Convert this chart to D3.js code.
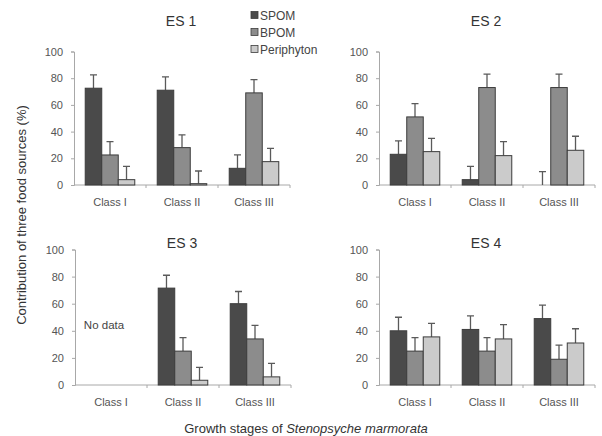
<!DOCTYPE html>
<html>
<head>
<meta charset="utf-8">
<script src="https://d3js.org/d3.v7.min.js"></script>
<style>
  body { margin: 0; background: #fff; }
  text { font-family: "Liberation Sans", Arial, sans-serif; }
</style>
</head>
<body>
<script>
// data (values by class, then SPOM / BPOM / Periphyton)
var classes = ["Class I", "Class II", "Class III"];
var sources = ["SPOM", "BPOM", "Periphyton"];
var sites = ["ES 1", "ES 2", "ES 3", "ES 4"];
var yTicks = [0, 20, 40, 60, 80, 100];

var es1Values = [[72.5, 22.5, 4], [71, 28, 1], [12.5, 69, 17.5]];
var es2Values = [[23, 51, 25], [4, 73, 22], [0, 73, 26]];
var es3Values = [[null, null, null], [71.5, 25, 3.5], [60, 34, 6]];
var es4Values = [[40, 25, 35.5], [41, 25, 34], [49, 19, 31]];

var es1Err = [[10, 10, 10], [10, 9.5, 9.5], [10, 10, 10]];
var es2Err = [[10, 10, 10], [10, 10, 10.5], [10, 10, 10.5]];
var es3Err = [[null, null, null], [9.5, 10, 9.5], [9, 10, 10]];
var es4Err = [[10, 10, 10], [10, 10, 10.5], [10, 10.5, 10.5]];

var allValues = [es1Values, es2Values, es3Values, es4Values];
var allErr = [es1Err, es2Err, es3Err, es4Err];

var fills = ["#4a4a4a", "#8c8c8c", "#cbcbcb"];

var width = 602, height = 436;

// panel boxes: left x, right x, y of 100, y of 0, title baseline
var panels = [
    {x0: 74, x1: 290, yTop: 51.5, yBot: 185, tY: 26},
    {x0: 379, x1: 595, yTop: 51.5, yBot: 185, tY: 26},
    {x0: 75, x1: 291, yTop: 249.5, yBot: 385, tY: 248},
    {x0: 379, x1: 595, yTop: 249.5, yBot: 385, tY: 248}
];

var svg = d3.select("body").append("svg")
    .attr("width", width)
    .attr("height", height)
    .style("background", "#fff");

panels.forEach(function (p, i) {
    var g = svg.append("g");
    var vals = allValues[i];
    var errs = allErr[i];

    var xScale = d3.scaleBand()
        .domain(classes)
        .range([p.x0, p.x1])
        .padding(0);
    var inner = d3.scaleBand()
        .domain(sources)
        .range([0, xScale.bandwidth()])
        .paddingInner(0)
        .paddingOuter(0.68);
    var yScale = d3.scaleLinear()
        .domain([0, 100])
        .range([p.yBot, p.yTop]);

    // y axis
    var yAxis = g.append("g")
        .attr("transform", "translate(" + p.x0 + ",0)")
        .call(d3.axisLeft(yScale).tickValues(yTicks).tickSize(3).tickPadding(8));
    yAxis.selectAll("path, line").attr("stroke", "#a8a8a8");
    yAxis.selectAll("text")
        .attr("fill", "#555")
        .style("font-size", "11px");

    // x axis with ticks between classes
    var xAxis = g.append("g")
        .attr("transform", "translate(0," + p.yBot + ")");
    xAxis.append("line")
        .attr("x1", p.x0).attr("x2", p.x1)
        .attr("y1", 0).attr("y2", 0)
        .attr("stroke", "#a8a8a8");
    xAxis.selectAll(".sep")
        .data(classes)
        .enter()
        .append("line")
        .attr("x1", function (d) { return xScale(d) + xScale.bandwidth(); })
        .attr("x2", function (d) { return xScale(d) + xScale.bandwidth(); })
        .attr("y1", 0).attr("y2", 3)
        .attr("stroke", "#a8a8a8");
    xAxis.selectAll(".lab")
        .data(classes)
        .enter()
        .append("text")
        .attr("x", function (d) { return xScale(d) + xScale.bandwidth() / 2; })
        .attr("y", 21)
        .attr("text-anchor", "middle")
        .attr("fill", "#555")
        .style("font-size", "11px")
        .text(function (d) { return d; });

    // bars + error bars
    var rows = [];
    classes.forEach(function (c, ci) {
        sources.forEach(function (s, si) {
            if (vals[ci][si] != null) {
                rows.push({c: c, s: s, si: si, v: vals[ci][si], e: errs[ci][si]});
            }
        });
    });

    g.selectAll(".err")
        .data(rows)
        .enter()
        .append("path")
        .attr("d", function (d) {
            var cx = xScale(d.c) + inner(d.s) + inner.bandwidth() / 2;
            var yt = yScale(d.v + d.e);
            return "M" + cx + "," + yScale(d.v) + "V" + yt + "M" + (cx - 3.5) + "," + yt + "H" + (cx + 3.5);
        })
        .attr("fill", "none")
        .attr("stroke", "#5a5a5a")
        .attr("stroke-width", 1.3);

    g.selectAll(".bar")
        .data(rows.filter(function (d) { return d.v > 0; }))
        .enter()
        .append("rect")
        .attr("x", function (d) { return xScale(d.c) + inner(d.s); })
        .attr("y", function (d) { return yScale(d.v); })
        .attr("width", inner.bandwidth())
        .attr("height", function (d) { return p.yBot - yScale(d.v); })
        .attr("fill", function (d) { return fills[d.si]; })
        .attr("stroke", "#3c3c3c")
        .attr("stroke-width", 1);

    // panel title
    g.append("text")
        .attr("x", xScale(classes[1]) + xScale.bandwidth() / 2 - 1)
        .attr("y", p.tY)
        .attr("text-anchor", "middle")
        .attr("fill", "#333")
        .style("font-size", "14px")
        .text(sites[i]);

    if (i == 2) {
        g.append("text")
            .attr("x", xScale(classes[0]) + xScale.bandwidth() / 2 - 7)
            .attr("y", yScale(41.5))
            .attr("text-anchor", "middle")
            .attr("fill", "#444")
            .style("font-size", "11.5px")
            .text("No data");
    }
});

// legend in ES 1 panel
var legend = svg.append("g").attr("transform", "translate(251,0)");
sources.forEach(function (s, i) {
    var ly = 15 + i * 17;
    legend.append("rect")
        .attr("x", 0).attr("y", ly - 3.5)
        .attr("width", 7).attr("height", 7)
        .attr("fill", fills[i])
        .attr("stroke", "#3c3c3c")
        .attr("stroke-width", 0.8);
    legend.append("text")
        .attr("x", 9).attr("y", ly + 4.5)
        .attr("fill", "#444")
        .style("font-size", "12px")
        .text(s);
});

// axis titles
svg.append("text")
    .attr("transform", "translate(26,215) rotate(-90)")
    .attr("text-anchor", "middle")
    .attr("fill", "#333")
    .style("font-size", "13px")
    .text("Contribution of three food sources (%)");

var xt = svg.append("text")
    .attr("x", 306)
    .attr("y", 433)
    .attr("text-anchor", "middle")
    .attr("fill", "#333")
    .style("font-size", "13px");
xt.append("tspan").text("Growth stages of ");
xt.append("tspan").style("font-style", "italic").text("Stenopsyche marmorata");
</script>
</body>
</html>
